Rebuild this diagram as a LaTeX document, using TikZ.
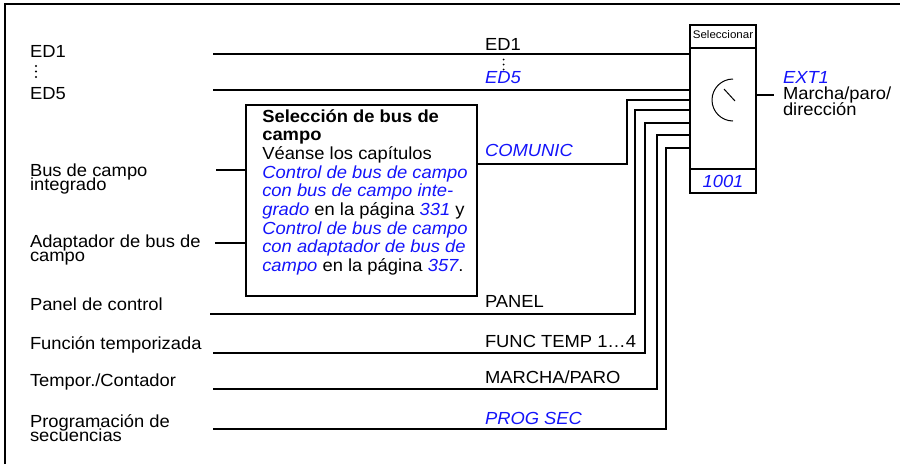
\documentclass[tikz,border=0pt]{standalone}
\usepackage{fontspec}
\setmainfont{Liberation Sans}[FakeStretch=1.05]
\usepackage{xcolor}
\definecolor{lnkblue}{RGB}{20,20,250}
\newcommand\lnk[1]{\textcolor{lnkblue}{\itshape #1}}
\newcommand\tightls{\lineskiplimit -30pt\relax}
\begin{document}
\begin{tikzpicture}[x=1pt,y=-1pt,
  every node/.style={inner sep=0pt, outer sep=0pt, font=\fontsize{17.5}{18.5}\selectfont},
  txt/.style={anchor=base west},
  two/.style={anchor=base west, align=left, font={\fontsize{17.5}{14}\selectfont\tightls}},
  wire/.style={line width=1.8pt},
  boxline/.style={draw, line width=1.8pt}]
\useasboundingbox (0,0) rectangle (900,464);
% frame
\draw[line width=1.3pt] (5,464) -- (5,4) -- (900,4);

% left labels (base = last line)
\node[txt] (lED1) at (30,57.5) {ED1};
\fill (36,66) circle (1.1pt) (36,71.5) circle (1.1pt) (36,77) circle (1.1pt);
\node[txt] (lED5) at (30,99.3) {ED5};
\node[two] (lbus) at (30,190) {Bus de campo\\integrado};
\node[two] (lad) at (30,261.5) {Adaptador de bus de\\campo};
\node[txt] (lpan) at (30,310.7) {Panel de control};
\node[txt] (lfun) at (30,349.5) {Función temporizada};
\node[txt] (ltem) at (30,386) {Tempor./Contador};
\node[two] (lpr) at (30,441) {Programación de\\secuencias};

% selector
\node[boxline, minimum width=66pt, minimum height=168pt] (sel) at (723,109) {};
\draw[line width=1.8pt] ([yshift=-22.7pt]sel.north west) -- ([yshift=-22.7pt]sel.north east);
\draw[line width=1.8pt] ([yshift=24pt]sel.south west) -- ([yshift=24pt]sel.south east);
\node[anchor=base, font=\fontsize{11}{12}\selectfont] (selt) at (723,38.3) {Seleccionar};
\node[anchor=base] (num) at (723,187.3) {\lnk{1001}};
\draw[line width=1pt] (733,79) arc[start angle=270, end angle=90, radius=21];
\draw[line width=1pt] (724,89) -- (735,101);

% output
\coordinate (outE) at (774,95);
\draw[wire] (outE -| sel.east) -- (outE);
\node[txt] (ext) at (783,83.3) {\lnk{EXT1}};
\node[two, font={\fontsize{17.5}{15.8}\selectfont\tightls}] (mp) at (783,115.1) {Marcha/paro/\\dirección};

% fieldbus box
\node[boxline, minimum width=231pt, minimum height=191pt] (fb) at (361.5,200.5) {};
\node[txt] (f1) at (262.3,122) {\textbf{Selección de bus de}};
\node[txt] (f2) at (262.3,140.7) {\textbf{campo}};
\node[txt] (f3) at (262.3,159.4) {Véanse los capítulos};
\node[txt] (f4) at (262.3,178.1) {\lnk{Control de bus de campo}};
\node[txt] (f5) at (262.3,196.8) {\lnk{con bus de campo inte-}};
\node[txt] (f6) at (262.3,215.5) {\lnk{grado} en la página \lnk{331} y};
\node[txt] (f7) at (262.3,234.2) {\lnk{Control de bus de campo}};
\node[txt] (f8) at (262.3,252.9) {\lnk{con adaptador de bus de}};
\node[txt] (f9) at (262.3,271.6) {\lnk{campo} en la página \lnk{357}.};

% inputs to fieldbus box
\coordinate (busS) at (216,170);
\coordinate (adS) at (215,243);
\draw[wire] (busS) -- (busS -| fb.west);
\draw[wire] (adS) -- (adS -| fb.west);

% ED lines
\coordinate (ed1S) at (213,54);
\coordinate (ed5S) at (213,90);
\draw[wire] (ed1S) -- (ed1S -| sel.west);
\draw[wire] (ed5S) -- (ed5S -| sel.west);
\node[txt] (tED1) at (485,50) {ED1};
\fill (503.5,59.5) circle (1pt) (503.5,64.5) circle (1pt) (503.5,69.5) circle (1pt);
\node[txt] (tED5) at (485,83.3) {\lnk{ED5}};

% COMUNIC
\coordinate (comA) at (627,164);
\coordinate (comB) at (627,100);
\draw[wire] (fb.east |- comA) -- (comA) -- (comB) -- (comB -| sel.west);
\node[txt] (tcom) at (485,156.7) {\lnk{COMUNIC}};

% PANEL
\coordinate (panS) at (210,314);
\coordinate (panB) at (635,110);
\draw[wire] (panS) -| (panB) -- (panB -| sel.west);
\node[txt] (tpan) at (485,307.7) {PANEL};

% FUNC TEMP
\coordinate (funS) at (213,353.3);
\coordinate (funB) at (645,122.7);
\draw[wire] (funS) -| (funB) -- (funB -| sel.west);
\node[txt] (tfun) at (485,347.3) {FUNC TEMP 1…4};

% MARCHA/PARO
\coordinate (marS) at (213,389.3);
\coordinate (marB) at (657,135);
\draw[wire] (marS) -| (marB) -- (marB -| sel.west);
\node[txt] (tmar) at (485,383.3) {MARCHA/PARO};

% PROG SEC
\coordinate (proS) at (213,429.3);
\coordinate (proB) at (666,148.3);
\draw[wire] (proS) -| (proB) -- (proB -| sel.west);
\node[txt] (tpro) at (485,424) {\lnk{PROG SEC}};
\end{tikzpicture}
\end{document}
